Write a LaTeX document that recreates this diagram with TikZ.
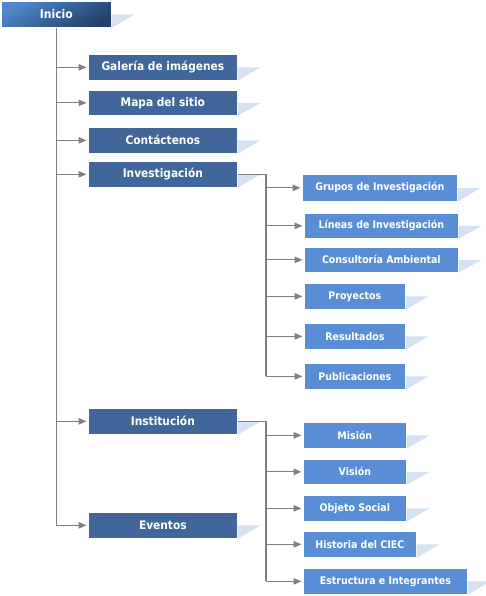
\documentclass[tikz,border=0pt]{standalone}
\usepackage{fontspec}
\setmainfont{DejaVu Sans Condensed}
\usetikzlibrary{arrows.meta,calc}
\definecolor{lvla}{HTML}{41679A}
\definecolor{lvlb}{HTML}{5A8ED4}
\definecolor{iniL}{HTML}{5088CC}
\definecolor{iniD}{HTML}{243F68}
\definecolor{shad}{HTML}{D6E2F1}
\definecolor{connc}{HTML}{808080}
\tikzset{
  boxbase/.style={anchor=north west, inner sep=0pt, text=white, draw=white, line width=0.7pt, font=\bfseries},
  lvlone/.style={boxbase, fill=lvla, minimum width=149pt, minimum height=26pt, font=\fontsize{11.8}{13}\selectfont\bfseries},
  lvltwo/.style={boxbase, fill=lvlb, minimum height=26pt, font=\fontsize{10.5}{12}\selectfont\bfseries},
  conn/.style={draw=connc, line width=1.2pt},
  arr/.style={conn, -{Triangle[length=8pt,width=6.5pt]}, shorten >=1.5pt},
  shadowtri/.style={fill=shad, draw=none}
}
\newcommand{\shadowof}[1]{\fill[shadowtri] (#1.east) -- ++(23,0) -- (#1.south east) -- cycle;}
\begin{document}
\begin{tikzpicture}[x=1pt,y=-1pt]
\useasboundingbox (0,0) rectangle (485,596);
% nodes
\node[boxbase, minimum width=110pt, minimum height=26pt, top color=iniL, bottom color=iniD, shading angle=30, font=\fontsize{12}{13}\selectfont\bfseries] (inicio) at (1,1) {Inicio};
\node[lvlone] (galeria) at (88,54) {Galería de imágenes};
\node[lvlone, minimum height=25pt] (mapa) at (88,90) {Mapa del sitio};
\node[lvlone] (contact) at (88,127) {Contáctenos};
\node[lvlone] (invest) at (88,161) {Investigación};
\node[lvlone] (instit) at (88,408) {Institución};
\node[lvlone] (eventos) at (88,512) {Eventos};
%
\node[lvltwo, minimum width=155pt, minimum height=27pt] (grupos) at (302,174) {Grupos de Investigación};
\node[lvltwo, minimum width=154pt, minimum height=25pt] (lineas) at (304,213) {Líneas de Investigación};
\node[lvltwo, minimum width=154pt, minimum height=25pt] (consult) at (304,247) {Consultoría Ambiental};
\node[lvltwo, minimum width=101pt] (proy) at (304,283) {Proyectos};
\node[lvltwo, minimum width=101pt] (result) at (304,323) {Resultados};
\node[lvltwo, minimum width=101pt] (publ) at (304,363) {Publicaciones};
%
\node[lvltwo, minimum width=103pt] (mision) at (303,422) {Misión};
\node[lvltwo, minimum width=103pt, minimum height=25pt] (vision) at (303,459) {Visión};
\node[lvltwo, minimum width=103pt] (objeto) at (303,495) {Objeto Social};
\node[lvltwo, minimum width=113pt] (historia) at (303,531) {Historia del CIEC};
\node[lvltwo, minimum width=164pt] (estruct) at (303,568) {Estructura e Integrantes};
% shadows
\foreach \n in {inicio,galeria,mapa,contact,invest,instit,eventos,grupos,lineas,consult,proy,result,publ,mision,vision,objeto,historia,estruct}{\shadowof{\n}}
% trunk
\draw[conn] (inicio.south) -- (inicio.south |- eventos.west);
\foreach \n in {galeria,mapa,contact,invest,instit,eventos}{\draw[arr] (inicio.south |- \n.west) -- (\n.west);}
% investigation branch
\coordinate (bx) at (266,0);
\draw[conn] (invest.east) -- (invest.east -| bx) -- (bx |- publ.west);
\foreach \n in {grupos,lineas,consult,proy,result,publ}{\draw[arr] (bx |- \n.west) -- (\n.west);}
% institution branch
\draw[conn] (instit.east) -- (instit.east -| bx) -- (bx |- estruct.west);
\foreach \n in {mision,vision,objeto,historia,estruct}{\draw[arr] (bx |- \n.west) -- (\n.west);}
\end{tikzpicture}
\end{document}
